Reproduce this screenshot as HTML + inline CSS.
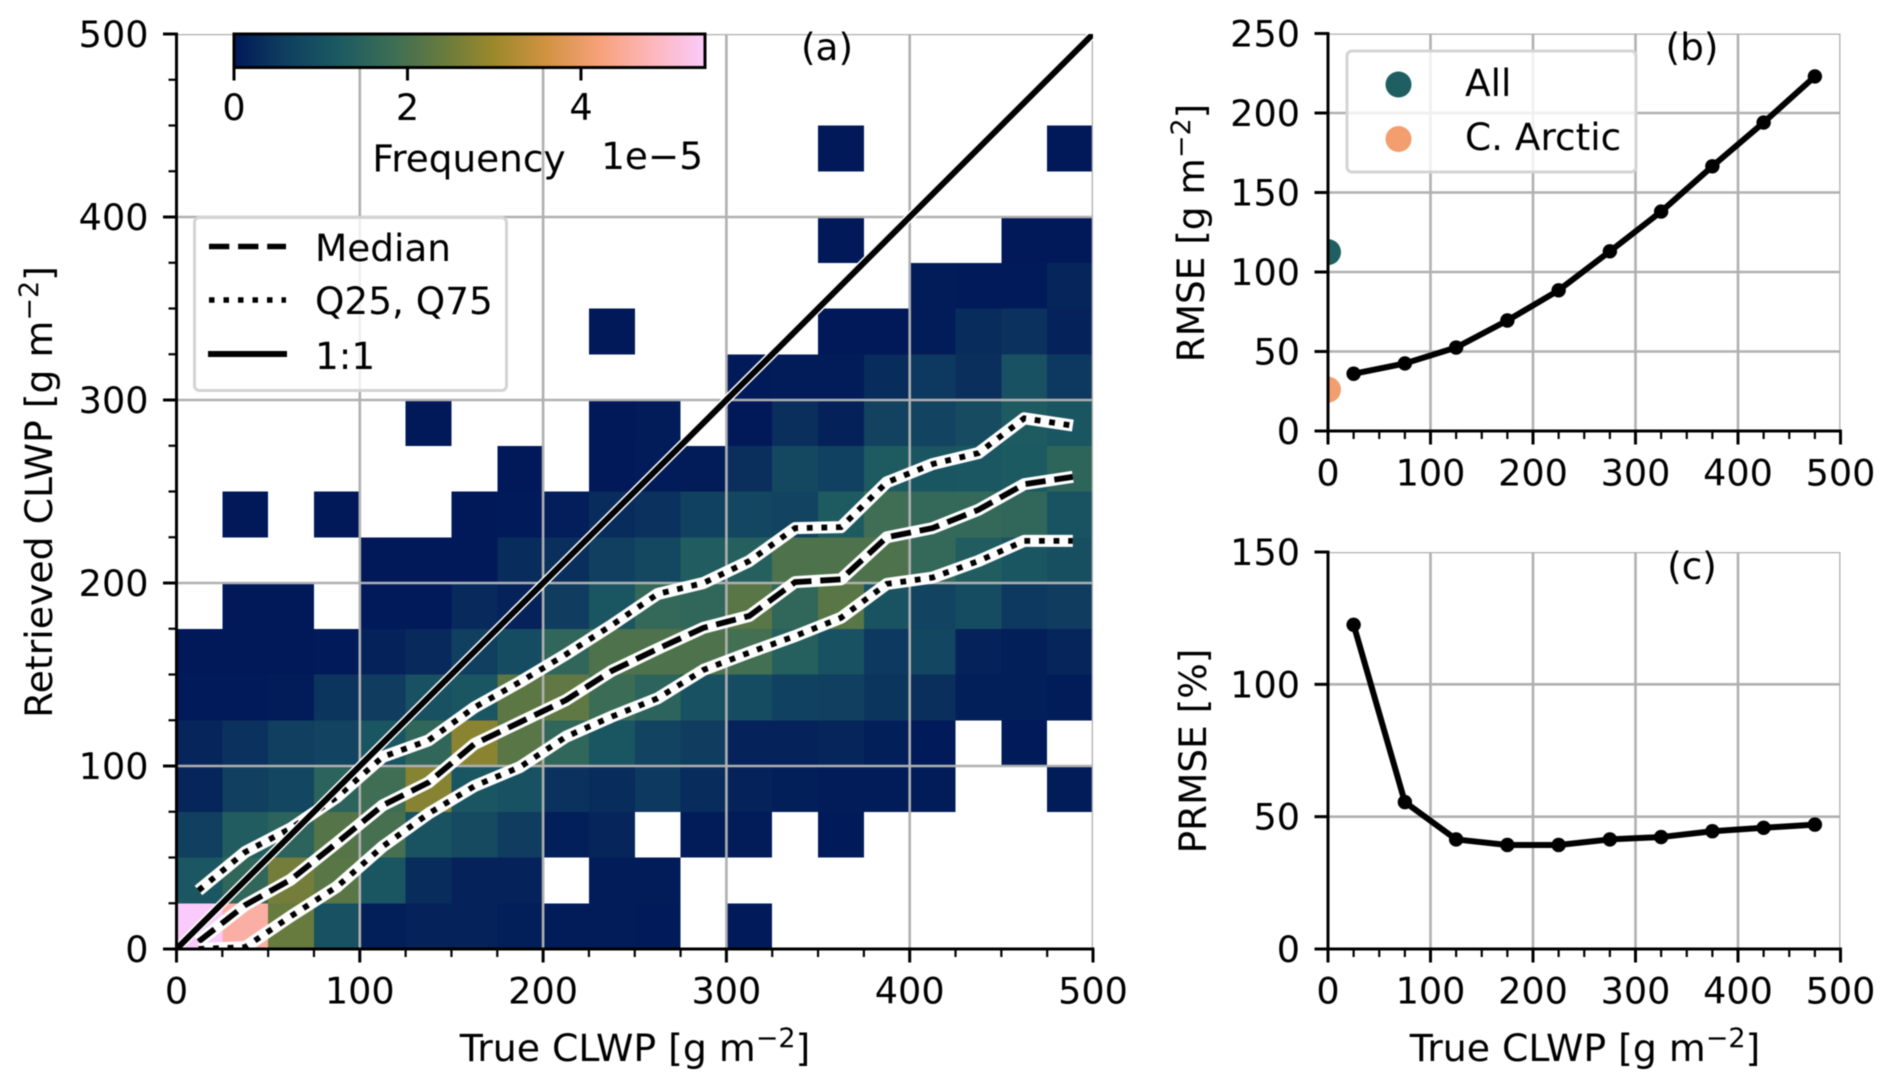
<!DOCTYPE html>
<html lang="en">
<head>
<meta charset="utf-8">
<title>CLWP retrieval evaluation</title>
<style>
html,body{margin:0;padding:0;background:#fff;width:1892px;height:1088px;overflow:hidden}
svg{display:block;filter:blur(0.45px)}
text{font-family:"DejaVu Sans","Liberation Sans",sans-serif;font-size:37.4px;fill:#000}
text.tick{font-size:36.6px}
text.axis-title{font-size:37.8px}
</style>
</head>
<body>
<svg id="figure" xmlns="http://www.w3.org/2000/svg" width="1892" height="1088" viewBox="0 0 1892 1088">
  <defs>
    <clipPath id="clip-a"><rect x="176.5" y="34" width="916.5" height="915"/></clipPath>
    <clipPath id="clip-b"><rect x="1328" y="33.5" width="512.5" height="397.5"/></clipPath>
    <clipPath id="clip-c"><rect x="1328" y="552" width="512.5" height="397"/></clipPath>
    <linearGradient id="cbar-gradient" x1="0" x2="1" y1="0" y2="0"></linearGradient>
  </defs>
  <g id="heatmap" clip-path="url(#clip-a)" shape-rendering="crispEdges"></g>
  <g id="grid-a" clip-path="url(#clip-a)"></g>
  <g id="lines-a" clip-path="url(#clip-a)"></g>
  <g id="axes-a"></g>

  <g id="grid-b" clip-path="url(#clip-b)"></g>
  <g id="marks-b" clip-path="url(#clip-b)"></g>
  <g id="axes-b"></g>

  <g id="grid-c" clip-path="url(#clip-c)"></g>
  <g id="marks-c" clip-path="url(#clip-c)"></g>
  <g id="axes-c"></g>

  <text x="827" y="60" text-anchor="middle">(a)</text>
  <text x="1692" y="60" text-anchor="middle">(b)</text>
  <text x="1692" y="579" text-anchor="middle">(c)</text>

  <text class="axis-title" x="635" y="1061" text-anchor="middle">True CLWP [g m<tspan font-size="27" dy="-14">−2</tspan><tspan dy="14">]</tspan></text>
  <text class="axis-title" x="1585" y="1061" text-anchor="middle">True CLWP [g m<tspan font-size="27" dy="-14">−2</tspan><tspan dy="14">]</tspan></text>
  <text class="axis-title" transform="translate(52,492) rotate(-90)" text-anchor="middle">Retrieved CLWP [g m<tspan font-size="27" dy="-14">−2</tspan><tspan dy="14">]</tspan></text>
  <text transform="translate(1204,233) rotate(-90)" text-anchor="middle">RMSE [g m<tspan font-size="27" dy="-14">−2</tspan><tspan dy="14">]</tspan></text>
  <text transform="translate(1206,751) rotate(-90)" text-anchor="middle">PRMSE [%]</text>

  <g id="colorbar">
    <rect x="234" y="34" width="471" height="33.5" fill="url(#cbar-gradient)" stroke="#000" stroke-width="3"/>
    <g id="cbar-ticks"></g>
    <text x="469" y="171.5" text-anchor="middle">Frequency</text>
    <text x="703" y="169" text-anchor="end">1e−5</text>
  </g>

  <g id="legend-a">
    <rect x="194.5" y="217.5" width="312" height="173" rx="5" fill="#fff" fill-opacity="0.8" stroke="#d4d4d4" stroke-width="3"/>
    <line x1="209" x2="286" y1="246.5" y2="246.5" stroke="#000" stroke-width="5.5" stroke-dasharray="20.3 8.8"/>
    <text x="315" y="261">Median</text>
    <line x1="209" x2="286" y1="300" y2="300" stroke="#000" stroke-width="5.5" stroke-dasharray="5.5 9"/>
    <text x="315" y="314">Q25, Q75</text>
    <line x1="208" x2="287" y1="354" y2="354" stroke="#000" stroke-width="6"/>
    <text x="315" y="369">1:1</text>
  </g>

  <g id="legend-b">
    <rect x="1347" y="51" width="289" height="121" rx="5" fill="#fff" fill-opacity="0.8" stroke="#d4d4d4" stroke-width="3"/>
    <circle cx="1398.5" cy="84.5" r="13" fill="#1f5f62"/>
    <text x="1465" y="96">All</text>
    <circle cx="1398.5" cy="139" r="13" fill="#f29e6f"/>
    <text x="1465" y="150">C. Arctic</text>
  </g>
</svg>

<script>
const _ = null;
// Histogram frequency (units of 1e-5); rows run bottom (0-25) to top (475-500), columns left to right.
const heatValues = [
  [5.5,4.6,2.4,1.0,.1,.15,.15,.1,.03,.03,.02,_,.01,_,_,_,_,_,_,_],
  [1.15,1.6,2.55,2.2,1.1,.3,.15,.15,_,.05,.03,_,_,_,_,_,_,_,_,_],
  [.6,1.3,1.5,2.15,1.95,1.05,.85,.55,.1,.2,_,.03,.03,_,.02,_,_,_,_,_],
  [.2,.6,.75,1.5,1.85,2.75,1.1,1.0,.4,.3,.5,.3,.15,.1,.05,.05,.05,_,_,.05],
  [.2,.4,.6,.7,1.1,1.6,2.8,2.2,1.6,1.1,.7,.55,.15,.15,.2,.1,.02,_,.01,_],
  [.01,.02,.05,.45,.55,1.0,1.1,2.25,2.3,1.8,1.5,1.0,.9,.65,.6,.45,.35,.1,.1,.05],
  [0,0,0,.02,.15,.25,.6,.9,1.6,2.05,2.05,2.05,1.9,1.4,1.0,.5,.75,.15,.1,.2],
  [_,0,0,_,.02,.02,.25,.15,.55,1.1,1.65,1.6,2.2,1.6,2.2,1.05,.7,.9,.5,.55],
  [_,_,_,_,0,0,0,.3,.35,.6,.8,1.3,1.4,2.05,2.05,2.05,1.65,1.3,1.1,.95],
  [_,0,_,0,_,_,0,.02,.08,.3,.4,.65,.75,.7,1.25,1.85,1.65,1.65,1.6,1.05],
  [_,_,_,_,_,_,_,0,_,0,.05,.03,.35,.8,.65,1.25,1.1,1.15,1.2,1.55],
  [_,_,_,_,_,0,_,_,_,0,.03,_,0,.35,.12,.68,.7,.88,1.25,1.1],
  [_,_,_,_,_,_,_,_,_,_,_,_,.02,.05,.03,.3,.5,.35,1.0,.5],
  [_,_,_,_,_,_,_,_,_,0,_,_,_,_,0,0,.05,.3,.4,.15],
  [_,_,_,_,_,_,_,_,_,_,_,_,_,_,_,_,.05,.02,.02,.2],
  [_,_,_,_,_,_,_,_,_,_,_,_,_,_,0,_,_,_,0,0],
  [_,_,_,_,_,_,_,_,_,_,_,_,_,_,_,_,_,_,_,_],
  [_,_,_,_,_,_,_,_,_,_,_,_,_,_,0,_,_,_,_,0],
  [_,_,_,_,_,_,_,_,_,_,_,_,_,_,_,_,_,_,_,_],
  [_,_,_,_,_,_,_,_,_,_,_,_,_,_,_,_,_,_,_,_]
];
const heatBinWidth = 25;
const colorMax = 5.43;
const colormapStops = ["#011959","#103f60","#1c5a62","#3c6d56","#687b3e","#9d892b","#d29343","#f8a17b","#fdb7bc","#facafa"];

const quantileX = [12,37.5,62.5,87.5,112.5,137.5,162.5,187.5,212.5,237.5,262.5,287.5,312.5,337.5,362.5,387.5,412.5,437.5,462.5,489];
const q75Values = [32,53,66,83,105,114,132,146,161,177,194,200,212,230,230.5,255,265,271,290,286];
const medianValues = [4,24,38,58,78.5,91,112,124,136,152,164,175.5,182,200.5,202,225,230,240,254,258];
const q25Values = [0,1,18,34,56,74,89,99.5,116,127,137,152.5,162,171,181,199.5,203,212,223,223];
const oneToOne = [0,500];

const errorX = [25,75,125,175,225,275,325,375,425,475];
const rmseValues = [36,42.5,52.5,69.5,88.5,113,138,166.5,194,223];
const prmseValues = [122.5,55.5,41.4,39.3,39.3,41.4,42.3,44.5,45.8,47];
const rmseAll = 112.5;
const rmseArctic = 26;

const xTicks = [0,100,200,300,400,500];
const xMinorTicks = [25,50,75,125,150,175,225,250,275,325,350,375,425,450,475];
const aYTicks = [0,100,200,300,400,500];
const aYMinorTicks = [25,50,75,125,150,175,225,250,275,325,350,375,425,450,475];
const bYTicks = [0,50,100,150,200,250];
const cYTicks = [0,50,100,150];
const cbarTicks = [0,2,4];

const NS = "http://www.w3.org/2000/svg";
function make(tag, attrs, parent){
  const el = document.createElementNS(NS, tag);
  for (const k in attrs) el.setAttribute(k, attrs[k]);
  if (parent) parent.appendChild(el);
  return el;
}
function g(id){ return document.getElementById(id); }

const panelA = {left:176.5, right:1093, top:34, bottom:949, xMax:500, yMax:500};
const panelB = {left:1328, right:1840.5, top:33.5, bottom:431, xMax:500, yMax:250};
const panelC = {left:1328, right:1840.5, top:552, bottom:949, xMax:500, yMax:150};
function xScale(p, v){ return p.left + (p.right - p.left) * v / p.xMax; }
function yScale(p, v){ return p.bottom - (p.bottom - p.top) * v / p.yMax; }

function hexToRgb(h){ return [1,3,5].map(function(i){ return parseInt(h.substr(i,2),16); }); }
function colorFor(v){
  const t = Math.max(0, Math.min(1, v / colorMax)) * (colormapStops.length - 1);
  const i = Math.min(Math.floor(t), colormapStops.length - 2);
  const f = t - i;
  const a = hexToRgb(colormapStops[i]);
  const b = hexToRgb(colormapStops[i + 1]);
  return "rgb(" + a.map(function(c, k){ return Math.round(c + (b[k] - c) * f); }).join(",") + ")";
}

// Heatmap cells
heatValues.forEach(function(row, r){
  row.forEach(function(v, c){
    if (v === null) return;
    const x0 = xScale(panelA, c * heatBinWidth);
    const x1 = xScale(panelA, (c + 1) * heatBinWidth);
    const y1 = yScale(panelA, r * heatBinWidth);
    const y0 = yScale(panelA, (r + 1) * heatBinWidth);
    const cell = make("rect", {x:x0, y:y0, width:x1 - x0, height:y1 - y0, fill:colorFor(v)}, g("heatmap"));
    
    
  });
});

// Grid
function drawGrid(p, target, xs, ys){
  xs.forEach(function(v){
    const l = make("line", {x1:xScale(p,v), x2:xScale(p,v), y1:p.top, y2:p.bottom, stroke:"#b0b0b0", "stroke-width":2.6}, target);
    
    
  });
  ys.forEach(function(v){
    const l = make("line", {x1:p.left, x2:p.right, y1:yScale(p,v), y2:yScale(p,v), stroke:"#b0b0b0", "stroke-width":2.6}, target);
    
    
  });
}
drawGrid(panelA, g("grid-a"), xTicks, aYTicks);
drawGrid(panelB, g("grid-b"), xTicks, bYTicks);
drawGrid(panelC, g("grid-c"), xTicks, cYTicks);

// Axes
function drawAxes(p, target, xs, xm, ys, ym){
  const sy = make("line", {x1:p.left, x2:p.left, y1:p.top - 1.4, y2:p.bottom + 1.4, stroke:"#000", "stroke-width":3}, target);
  
  
  const sx = make("line", {x1:p.left - 1.4, x2:p.right + 1.4, y1:p.bottom, y2:p.bottom, stroke:"#000", "stroke-width":3}, target);
  
  
  xs.forEach(function(v){
    const x = xScale(p, v);
    const t = make("line", {x1:x, x2:x, y1:p.bottom, y2:p.bottom + 13.5, stroke:"#000", "stroke-width":3}, target);
    
    
    const l = make("text", {class:"tick", x:x, y:p.bottom + 54.5, "text-anchor":"middle"}, target);
    l.textContent = v;
    
    
  });
  xm.forEach(function(v){
    const x = xScale(p, v);
    const t = make("line", {x1:x, x2:x, y1:p.bottom, y2:p.bottom + 8, stroke:"#000", "stroke-width":2.2}, target);
    
    
  });
  ys.forEach(function(v){
    const y = yScale(p, v);
    const t = make("line", {x1:p.left - 13.5, x2:p.left, y1:y, y2:y, stroke:"#000", "stroke-width":3}, target);
    
    
    const l = make("text", {class:"tick", x:p.left - 28, y:y + 13, "text-anchor":"end"}, target);
    l.textContent = v;
    
    
  });
  ym.forEach(function(v){
    const y = yScale(p, v);
    const t = make("line", {x1:p.left - 8, x2:p.left, y1:y, y2:y, stroke:"#000", "stroke-width":2.2}, target);
    
    
  });
}
drawAxes(panelA, g("axes-a"), xTicks, xMinorTicks, aYTicks, aYMinorTicks);
drawAxes(panelB, g("axes-b"), xTicks, xMinorTicks, bYTicks, []);
drawAxes(panelC, g("axes-c"), xTicks, xMinorTicks, cYTicks, []);

function pathFor(p, xs, ys){
  return xs.map(function(v, i){
    return (i ? "L" : "M") + xScale(p, v).toFixed(2) + " " + yScale(p, ys[i]).toFixed(2);
  }).join(" ");
}

// Quantile lines with white halo
function drawHaloLine(xs, ys, dash, name){
  const d = pathFor(panelA, xs, ys);
  const halo = make("path", {d:d, fill:"none", stroke:"#fff", "stroke-width":12, "stroke-linejoin":"round"}, g("lines-a"));
  
  
  const core = make("path", {d:d, fill:"none", stroke:"#000", "stroke-width":5.8, "stroke-dasharray":dash}, g("lines-a"));
  
  
}
drawHaloLine(quantileX, q75Values, "5.8 8.8", "q75-line");
drawHaloLine(quantileX, medianValues, "20.3 8.8", "median-line");
drawHaloLine(quantileX, q25Values, "5.8 8.8", "q25-line");

const oneHalo = make("path", {d:pathFor(panelA, oneToOne, oneToOne), fill:"none", stroke:"#fff", "stroke-width":9}, g("lines-a"));


const oneLine = make("path", {d:pathFor(panelA, oneToOne, oneToOne), fill:"none", stroke:"#000", "stroke-width":6}, g("lines-a"));



// Panels b and c
function drawSeries(p, target, xs, ys, name){
  const line = make("path", {d:pathFor(p, xs, ys), fill:"none", stroke:"#000", "stroke-width":6, "stroke-linejoin":"round"}, target);
  
  
  xs.forEach(function(v, i){
    const dot = make("circle", {cx:xScale(p, v), cy:yScale(p, ys[i]), r:7.2, fill:"#000"}, target);
    
    
  });
}
drawSeries(panelB, g("marks-b"), errorX, rmseValues, "rmse");
drawSeries(panelC, g("marks-c"), errorX, prmseValues, "prmse");

const allDot = make("circle", {cx:xScale(panelB, 0), cy:yScale(panelB, rmseAll), r:13, fill:"#1f5f62"}, g("marks-b"));


const arcticDot = make("circle", {cx:xScale(panelB, 0), cy:yScale(panelB, rmseArctic), r:13, fill:"#f29e6f"}, g("marks-b"));



// Colorbar
colormapStops.forEach(function(c, i){
  make("stop", {offset:(i / (colormapStops.length - 1)), "stop-color":c}, g("cbar-gradient"));
});
cbarTicks.forEach(function(v){
  const x = 234 + 471 * v / colorMax;
  const t = make("line", {x1:x, x2:x, y1:67.5, y2:80.5, stroke:"#000", "stroke-width":3}, g("cbar-ticks"));
  
  
  const l = make("text", {class:"tick", x:x, y:120, "text-anchor":"middle"}, g("cbar-ticks"));
  l.textContent = v;
  
  
});
</script>
</body>
</html>
